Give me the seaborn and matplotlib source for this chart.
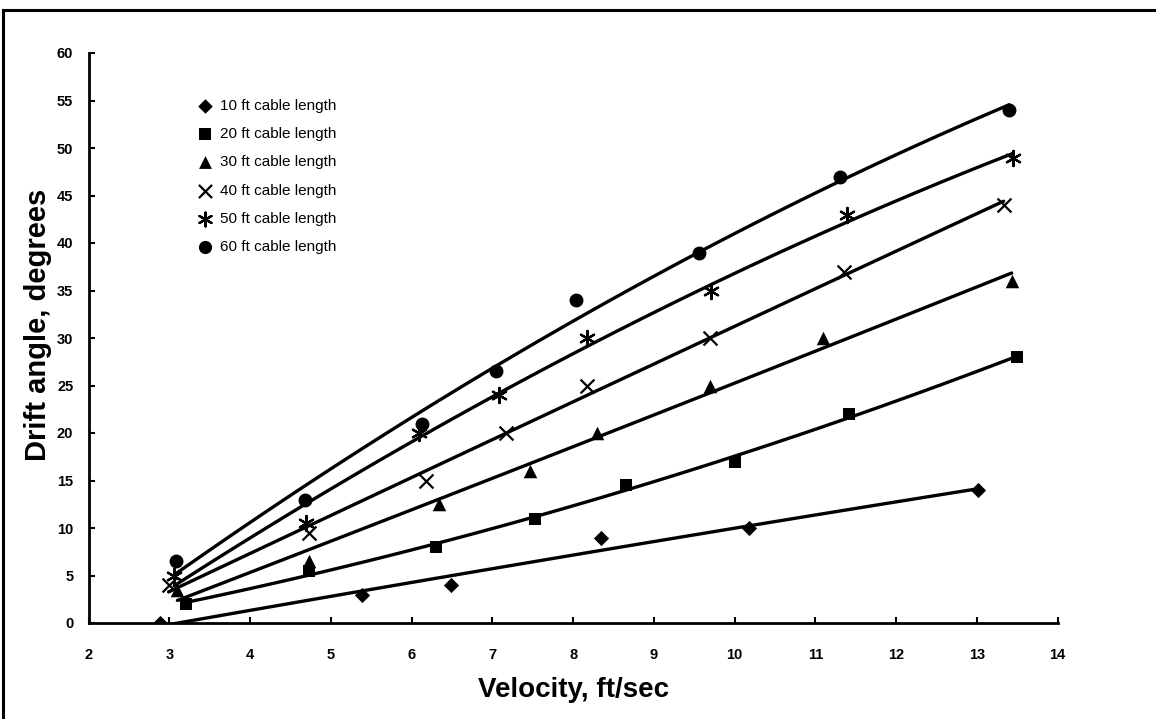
import matplotlib
matplotlib.use("Agg")
import matplotlib.pyplot as plt
from matplotlib.patches import Rectangle
import seaborn as sns
import numpy as np

# ---- data ----
labels = ["10 ft cable length", "20 ft cable length", "30 ft cable length",
          "40 ft cable length", "50 ft cable length", "60 ft cable length"]

v10 = [2.88, 5.38, 6.49, 8.34, 10.18, 13.01]
d10 = [0, 3, 4, 9, 10, 14]

v20 = [3.20, 4.73, 6.30, 7.53, 8.66, 10.00, 11.41, 13.50]
d20 = [2, 5.5, 8, 11, 14.5, 17, 22, 28]

v30 = [3.10, 4.73, 6.34, 7.47, 8.30, 9.70, 11.09, 13.43]
d30 = [3.5, 6.5, 12.5, 16, 20, 25, 30, 36]

v40 = [2.99, 4.73, 6.18, 7.17, 8.17, 9.69, 11.36, 13.33]
d40 = [4, 9.5, 15, 20, 25, 30, 37, 44]

v50 = [3.06, 4.69, 6.09, 7.08, 8.17, 9.71, 11.39, 13.45]
d50 = [5, 10.5, 20, 24, 30, 35, 43, 49]

v60 = [3.08, 4.68, 6.13, 7.04, 8.03, 9.56, 11.30, 13.40]
d60 = [6.5, 13, 21, 26.5, 34, 39, 47, 54]

x_ticks = list(range(2, 15))
y_ticks = list(range(0, 65, 5))

series = [(v10, d10), (v20, d20), (v30, d30), (v40, d40), (v50, d50), (v60, d60)]

sns.set_theme(style="white")
plt.rcParams['font.family'] = ['Liberation Sans', 'DejaVu Sans']
plt.rcParams['text.color'] = 'black'
plt.rcParams['axes.labelcolor'] = 'black'

fig = plt.figure(figsize=(11.56, 7.19), dpi=100)
ax = fig.add_axes([88.6 / 1156, 96 / 719, (1057.7 - 88.6) / 1156, 570 / 719])

markers = ["D", "s", "^", "x", (6, 2, 0), "o"]
sizes = [60, 80, 95, 100, 120, 100]
leg_sizes = [55, 75, 85, 90, 100, 90]

for (vx, dy), lab, m, s in zip(series, labels, markers, sizes):
    scatter_kws = dict(s=s, color="black", alpha=1, zorder=3)
    if m in ("x",) or isinstance(m, tuple):
        scatter_kws["linewidths"] = 1.6
    else:
        scatter_kws["linewidths"] = 0
    sns.regplot(x=np.array(vx), y=np.array(dy), ax=ax, order=2, ci=None,
                truncate=True, marker=m, label=lab,
                scatter_kws=scatter_kws,
                line_kws=dict(color="black", lw=2.4, zorder=2))

ax.set_xlim(2, 14)
ax.set_ylim(0, 60)
ax.set_xticks(x_ticks)
ax.set_yticks(y_ticks)
ax.set_xticklabels([str(t) for t in x_ticks], fontsize=10.5, fontweight="bold")
ax.set_yticklabels([str(t) for t in y_ticks], fontsize=10.5, fontweight="bold")
ax.tick_params(axis="both", direction="in", length=4, width=1.5, colors="black",
               pad=10, left=True, bottom=True)
ax.tick_params(axis="x", pad=18)
ax.tick_params(axis="y", pad=11)

for side in ["top", "right"]:
    ax.spines[side].set_visible(False)
for side in ["left", "bottom"]:
    ax.spines[side].set_color("black")
    ax.spines[side].set_linewidth(2)

ax.set_xlabel("Velocity, ft/sec", fontsize=20, fontweight="bold", labelpad=11,
              color="black")
ax.set_ylabel("Drift angle, degrees", fontsize=21, fontweight="bold",
              color="black")
ax.yaxis.set_label_coords(-0.038, 0.523)

leg = ax.legend(loc="upper left", bbox_to_anchor=(0.106, 0.93), frameon=False,
                fontsize=11, handletextpad=0.45, labelspacing=0.93,
                handlelength=1.0, borderaxespad=0, labelcolor="black")
for h, s in zip(leg.legend_handles, leg_sizes):
    h.set_sizes([s])

# outer frame
fig.patches.append(Rectangle((3 / 1156, -0.1), 1.2, 1 - 10 / 719 + 0.1,
                             transform=fig.transFigure, fill=False,
                             edgecolor="black", lw=2.2))

fig.savefig("out.png", dpi=100)
